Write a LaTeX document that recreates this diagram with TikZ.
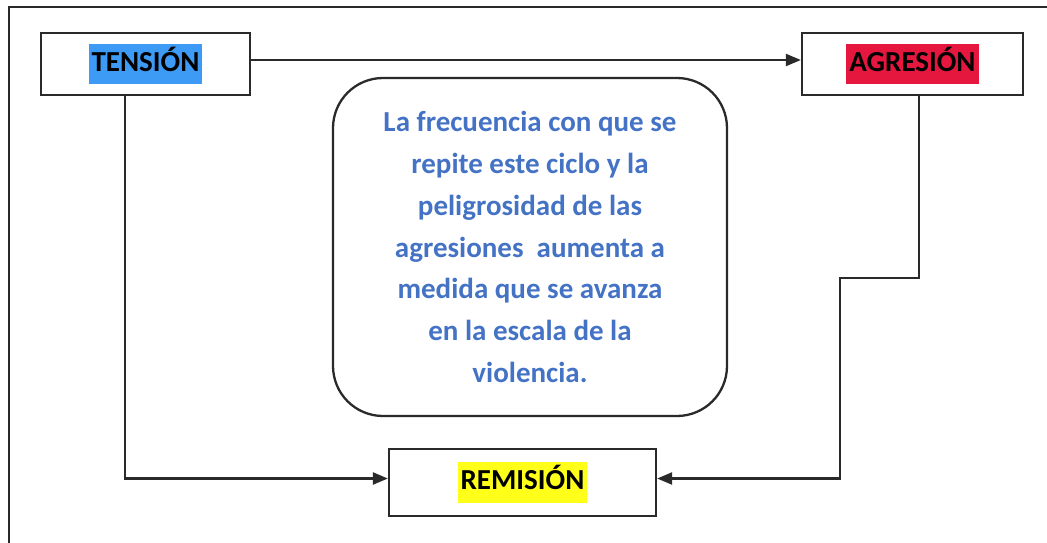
\documentclass[tikz,border=0pt]{standalone}
\usepackage{fontspec}
\setmainfont{Carlito}
\usetikzlibrary{arrows.meta,calc}
\definecolor{lineg}{HTML}{2A2A2A}
\definecolor{tblue}{HTML}{3D9BF5}
\definecolor{ared}{HTML}{E5173F}
\definecolor{ryel}{HTML}{FFFF1A}
\definecolor{txtblue}{HTML}{4472C4}
\tikzset{
  stage/.style={draw=lineg, line width=2.3pt, rectangle, inner sep=0pt, font=\fontsize{29}{33}\selectfont\bfseries},
  conn/.style={draw=lineg, line width=2.3pt},
  arr/.style={conn, -{Triangle[length=15pt,width=12pt]}},
  note/.style={draw=lineg, line width=2.3pt, rounded corners=50pt, minimum width=394pt, minimum height=338pt, align=center, text=txtblue, font=\fontsize{29}{41.7}\selectfont\bfseries}
}
\newcommand{\hl}[2]{{\setlength{\fboxsep}{3pt}\colorbox{#1}{\strut #2}}}
\begin{document}
\begin{tikzpicture}[x=1pt,y=-1pt]
\useasboundingbox (0,0) rectangle (1047,543);
% outer frame (top and left edges visible)
\draw[conn] (9,543) -- (9,7) -- (1047,7);
\node[stage, minimum width=209pt, minimum height=62pt] (ten) at (145.5,64) {\hl{tblue}{TENSIÓN}};
\node[stage, minimum width=221pt, minimum height=62pt] (agr) at (912.5,64) {\hl{ared}{AGRESIÓN}};
\node[stage, minimum width=267pt, minimum height=67pt] (rem) at (522.5,482.5) {\hl{ryel}{REMISIÓN}};
\node[note] (txt) at (530,247) {La frecuencia con que se\\repite este ciclo y la\\peligrosidad de las\\agresiones\ \ aumenta a\\medida que se avanza\\en la escala de la\\violencia.};
\draw[arr] ([yshift=4pt]ten.east) -- ([yshift=4pt]agr.west);
\coordinate (lt) at (ten.south -| 125,0);
\draw[arr] (lt) |- ([yshift=4pt]rem.west);
\coordinate (rt) at (agr.south -| 919,0);
\coordinate (r1) at (919,278);
\coordinate (r2) at (840,278);
\draw[arr] (rt) -- (r1) -- (r2) |- ([yshift=4pt]rem.east);
\end{tikzpicture}
\end{document}
